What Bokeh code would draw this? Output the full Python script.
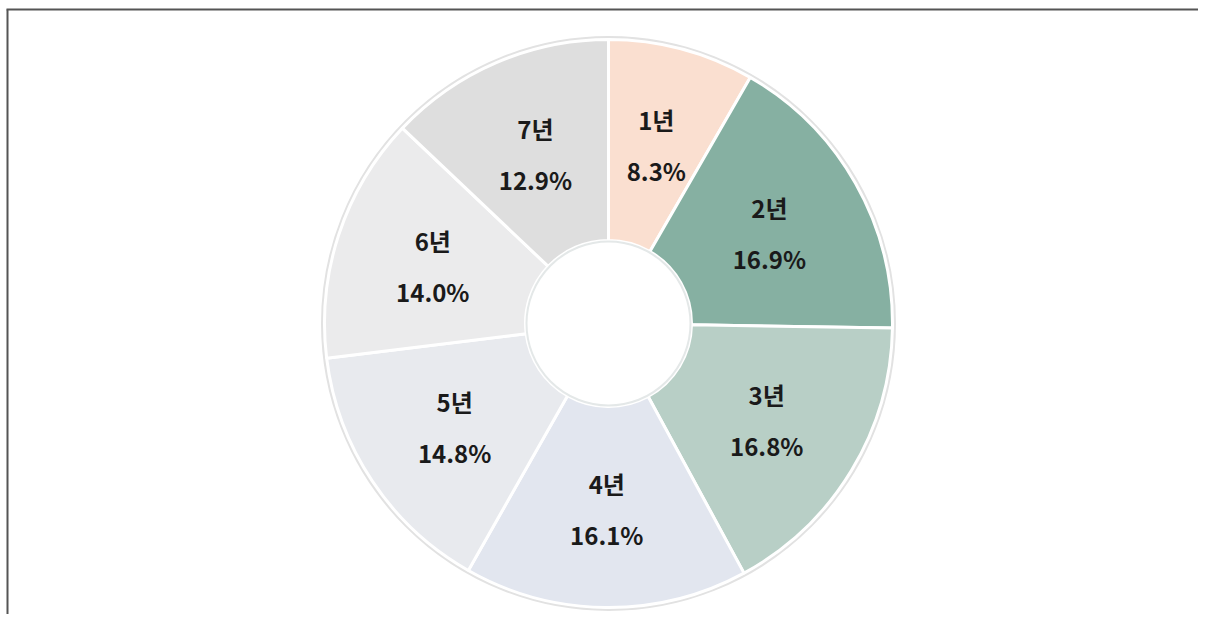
import math
from bokeh.plotting import figure
from bokeh.models import Range1d, ColumnDataSource
from bokeh.core.properties import value
from bokeh.embed import file_html
from bokeh.resources import INLINE

categories = ["1년", "2년", "3년", "4년", "5년", "6년", "7년"]
shares = [8.3, 16.9, 16.8, 16.1, 14.8, 14.0, 12.9]
colors = ["#FADFD0", "#86B0A2", "#B8CFC6", "#E2E6EF", "#E8EAEE", "#EBEBEC", "#DEDEDE"]

W, H = 1198, 614
p = figure(width=W, height=H, output_backend="svg", toolbar_location=None,
           x_range=Range1d(0, W), y_range=Range1d(0, H),
           min_border=0, min_border_left=0, min_border_right=0,
           min_border_top=0, min_border_bottom=0)
p.axis.visible = False
p.grid.visible = False
p.outline_line_color = None
p.background_fill_color = "white"
p.border_fill_color = "white"

# frame lines (top and left)
p.line([6, W], [H - 9, H - 9], line_color="#555555", line_width=2)
p.line([7, 7], [0, H - 9], line_color="#555555", line_width=2)

cx, cy = 608, H - 323
r_out, r_in = 284, 83

total = sum(shares)
starts, ends, lx, ly = [], [], [], []
cum = 0.0
for s in shares:
    c0 = cum / total
    cum += s
    c1 = cum / total
    starts.append(math.radians(90 - c1 * 360))
    ends.append(math.radians(90 - c0 * 360))
    mid = math.radians(90 - (c0 + c1) / 2 * 360)
    lx.append(cx + 185 * math.cos(mid))
    ly.append(cy + 185 * math.sin(mid))

src = ColumnDataSource(dict(
    start=starts, end=ends, color=colors, cat=categories,
    pct=[f"{v:.1f}%" for v in shares],
    lx=lx, ly_top=[y + 25 for y in ly], ly_bot=[y - 26 for y in ly],
))

# faint outer shadow ring
p.circle(x=[cx], y=[cy], radius=r_out + 2, fill_color=None,
         line_color="#E2E2E2", line_width=3)

p.annular_wedge(x=cx, y=cy, inner_radius=r_in, outer_radius=r_out,
                start_angle="start", end_angle="end", fill_color="color",
                line_color="white", line_width=3, source=src)

# inner hole outline
p.circle(x=[cx], y=[cy], radius=r_in - 1, fill_color="white",
         line_color="#E4E8E8", line_width=2)

font = value("Noto Sans CJK KR")
p.text(x="lx", y="ly_top", text="cat", source=src, text_font=font,
       text_font_size="24px", text_font_style="bold", text_color="#1A1A1A",
       text_align="center", text_baseline="middle")
p.text(x="lx", y="ly_bot", text="pct", source=src, text_font=font,
       text_font_size="24px", text_font_style="bold", text_color="#1A1A1A",
       text_align="center", text_baseline="middle")

open("out.html", "w").write(file_html(p, INLINE))
